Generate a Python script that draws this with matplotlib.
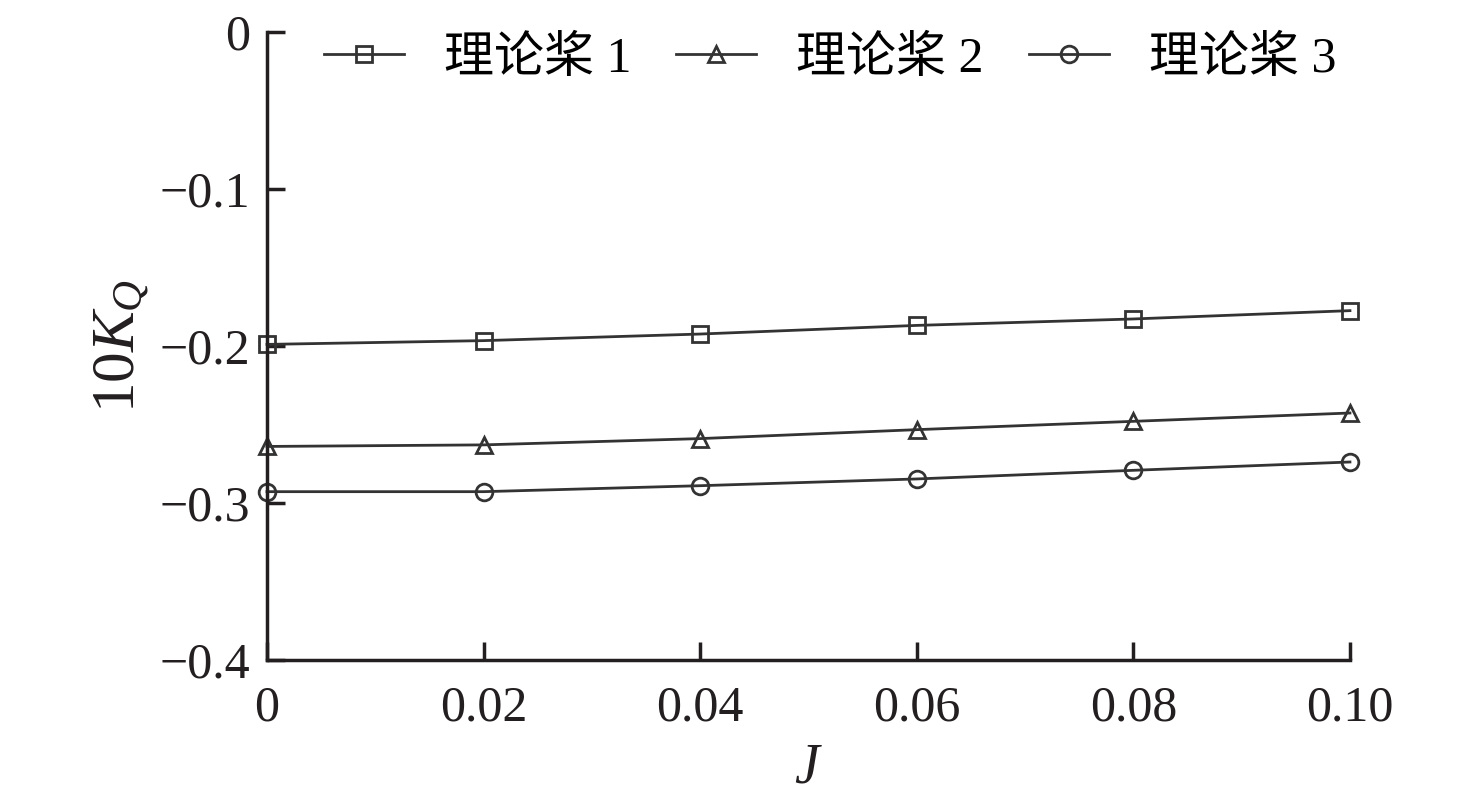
import matplotlib
matplotlib.use("Agg")
import matplotlib.pyplot as plt

# advance ratio J and torque coefficient 10*K_Q for three theoretical propellers
J = [0.0, 0.02, 0.04, 0.06, 0.08, 0.10]
kq_prop1 = [-0.199, -0.1966, -0.1924, -0.1869, -0.1828, -0.1775]
kq_prop2 = [-0.264, -0.263, -0.259, -0.2533, -0.248, -0.2427]
kq_prop3 = [-0.2928, -0.2928, -0.289, -0.2847, -0.2792, -0.2739]
labels = ["理论桨 1", "理论桨 2", "理论桨 3"]
markers = ["s", "^", "o"]

x_ticks = [0, 0.02, 0.04, 0.06, 0.08, 0.10]
x_ticklabels = ["0", "0.02", "0.04", "0.06", "0.08", "0.10"]
y_ticks = [-0.4, -0.3, -0.2, -0.1, 0]
y_ticklabels = ["\u22120.4", "\u22120.3", "\u22120.2", "\u22120.1", "0"]

plt.rcParams["font.family"] = ["Liberation Serif", "Noto Sans CJK SC"]
plt.rcParams["mathtext.fontset"] = "custom"
plt.rcParams["mathtext.rm"] = "Liberation Serif"
plt.rcParams["mathtext.it"] = "Liberation Serif:italic"
plt.rcParams["font.size"] = 36

ink = "#231f20"
fig = plt.figure(figsize=(14.76, 7.99), dpi=100)
ax = fig.add_axes([0.1809, 0.174, 0.7337, 0.786])

for ys, lab, mk in zip([kq_prop1, kq_prop2, kq_prop3], labels, markers):
    ax.plot(J, ys, color="#333333", linewidth=2, marker=mk, markersize=12,
            markerfacecolor="none", markeredgecolor="#333333", markeredgewidth=2,
            label=lab, clip_on=False)

ax.set_xlim(0, 0.10)
ax.set_ylim(-0.4, 0)
ax.set_xticks(x_ticks)
ax.set_xticklabels(x_ticklabels)
ax.set_yticks(y_ticks)
ax.set_yticklabels(y_ticklabels)
ax.tick_params(direction="in", length=13, width=2.5, colors=ink, labelcolor=ink)
ax.tick_params(axis="x", pad=18)
ax.tick_params(axis="y", pad=12)
for side in ("top", "right"):
    ax.spines[side].set_visible(False)
for side in ("left", "bottom"):
    ax.spines[side].set_linewidth(2.5)
    ax.spines[side].set_color(ink)

ax.set_xlabel(r"$J$", color=ink, fontsize=40, labelpad=8)
ax.set_ylabel(r"$10K_Q$", color=ink, fontsize=44, labelpad=6)

ax.legend(loc="upper center", bbox_to_anchor=(0.52, 1.025), ncol=3, frameon=False,
          handlelength=1.6, handletextpad=0.8, columnspacing=0.9, borderaxespad=0)

fig.savefig("out.png", dpi=100)
